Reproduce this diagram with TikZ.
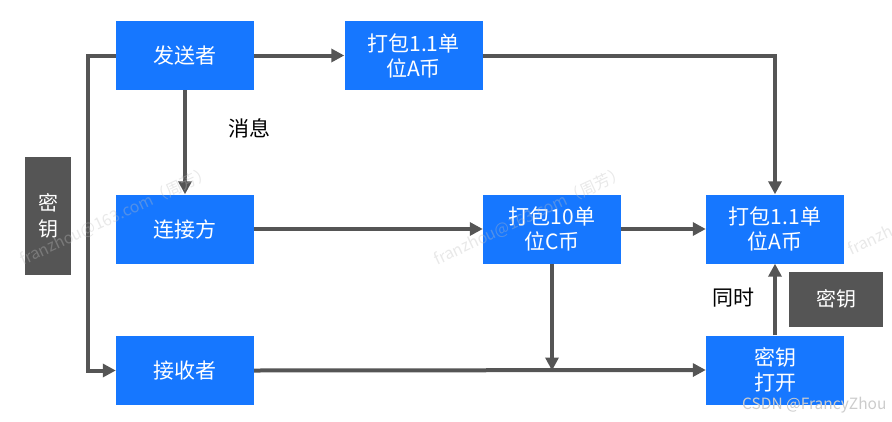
\documentclass[tikz,border=0pt]{standalone}
\usepackage{fontspec}
\setmainfont{Noto Sans CJK SC}
\usetikzlibrary{arrows.meta}
\definecolor{boxblue}{RGB}{22,119,255}
\definecolor{keygray}{RGB}{85,85,85}
\definecolor{linegray}{RGB}{85,85,85}
\definecolor{wmgray}{RGB}{190,190,190}
\begin{document}
\begin{tikzpicture}[x=1pt,y=-1pt,
  bluebox/.style={fill=boxblue,text=white,minimum width=138pt,minimum height=69pt,inner sep=0pt,align=center,font=\fontsize{21}{25}\selectfont},
  keybox/.style={fill=keygray,text=white,inner sep=0pt,align=center,font=\fontsize{20}{26}\selectfont},
  conn/.style={draw=linegray,line width=4pt,-{Triangle[length=13pt,width=13pt]}},
  lbl/.style={font=\fontsize{21}{24}\selectfont,text=black},
  wm/.style={text=wmgray,text opacity=0.35,font=\fontsize{16}{18}\selectfont,rotate=25,anchor=west}]
\useasboundingbox (0,0) rectangle (892,421);
% boxes
\node[bluebox] (send) at (185,55.5) {发送者};
\node[bluebox] (packA1) at (413.5,55.5) {打包1.1单\\位A币};
\node[bluebox] (conn) at (185,229) {连接方};
\node[bluebox] (packC) at (552,229) {打包10单\\位C币};
\node[bluebox] (packA2) at (775,229) {打包1.1单\\位A币};
\node[bluebox] (recv) at (185,370.5) {接收者};
\node[bluebox] (open) at (775,370) {密钥\\打开};
\node[keybox,minimum width=46pt,minimum height=118pt] (keyL) at (48,216) {密\\钥};
\node[keybox,minimum width=94pt,minimum height=55pt] (keyR) at (836,299) {密钥};
% labels
\node[lbl] (msg) at (249,128) {消息};
\node[lbl] (same) at (733,298) {同时};
% connectors
\coordinate (lt) at (88,55.5);
\coordinate (lb) at (88,370.5);
\coordinate (tr) at (775,55.5);
\coordinate (join) at (552,370.5);
\draw[conn] (send.west) -- (lt) -- (lb) -- (recv.west);
\draw[conn] (send.east) -- (packA1.west);
\draw[conn] (send.south) -- (conn.north);
\draw[conn] (packA1.east) -- (tr) -- (packA2.north);
\draw[conn] (conn.east) -- (packC.west);
\draw[conn] (packC.east) -- (packA2.west);
\draw[conn] (packC.south) -- (join);
\draw[conn] (recv.east) -- (open.west);
\draw[conn] (open.north) -- (packA2.south);
% watermarks
\node[wm] (wm1) at (18,262) {franzhou@163.com（周芳）};
\node[wm] (wm2) at (432,262) {franzhou@163.com（周芳）};
\node[wm] (wm3) at (846,252) {franzhou@163.com（周芳）};
\node[text=black!20,font=\fontsize{15.5}{17}\selectfont,anchor=east] (csdn) at (890,405) {CSDN @FrancyZhou};
\end{tikzpicture}
\end{document}
